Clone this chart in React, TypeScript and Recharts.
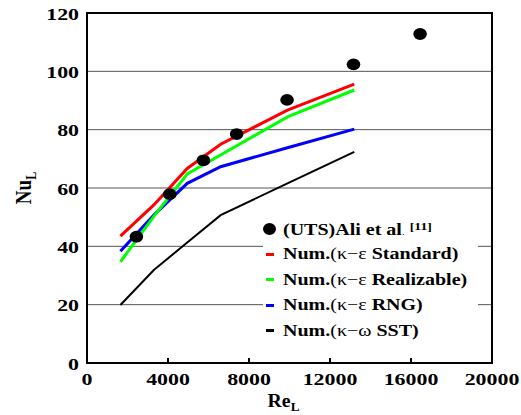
import { ComposedChart, Line, Scatter, XAxis, YAxis, CartesianGrid, ReferenceArea, Legend } from 'recharts'

// simulations (Re_L) and experiment points
const SIM_RE = [1650, 3300, 4950, 6600, 9900, 13200]
const STANDARD = [43.5, 54.2, 66.7, 75.0, 86.7, 95.6]
const REALIZABLE = [34.7, 50.3, 64.8, 71.3, 84.4, 93.6]
const RNG = [38.3, 50.7, 61.6, 67.3, 73.8, 80.2]
const SST = [19.9, 31.9, 41.3, 50.7, 61.6, 72.4]

const EXP_RE = [2440, 4085, 5750, 7390, 9880, 13160, 16450]
const EXP_NU = [43.3, 57.9, 69.5, 78.5, 90.2, 102.4, 112.8]

const X_TICKS = [0, 4000, 8000, 12000, 16000, 20000]
const Y_TICKS = [0, 20, 40, 60, 80, 100, 120]
const GRID_Y = [20, 40, 60, 80, 100]

const FONT = '"Liberation Serif", "Times New Roman", serif'
const SX = 1.25 // the original is stretched sideways

const simRows = SIM_RE.map((re, i) => ({
  re,
  standard: STANDARD[i],
  realizable: REALIZABLE[i],
  rng: RNG[i],
  sst: SST[i],
}))
const expRows = EXP_RE.map((re, i) => ({ re, nu: EXP_NU[i] }))

const LEGEND_ROWS = [
  { color: '#ff0000', model: 'κ−ε', name: 'Standard)' },
  { color: '#00ff00', model: 'κ−ε', name: 'Realizable)' },
  { color: '#0000ff', model: 'κ−ε', name: 'RNG)' },
  { color: '#000000', model: 'κ−ω', name: 'SST)' },
]

function XTick(props: any) {
  const { x, y, payload } = props
  const inner = payload.value !== 0 && payload.value !== 20000
  return (
    <g>
      {inner && <line x1={x} x2={x} y1={y} y2={y - 5} stroke="#000" strokeWidth={2} />}
      <text transform={`translate(${x},${y + 22}) scale(${SX},1)`} textAnchor="middle"
        fontFamily={FONT} fontWeight="bold" fontSize={17.5} fill="#000">
        {payload.value}
      </text>
    </g>
  )
}

function YTick(props: any) {
  const { x, y, payload } = props
  return (
    <text transform={`translate(${x - 8},${y + 6.5}) scale(${SX},1)`} textAnchor="end"
      fontFamily={FONT} fontWeight="bold" fontSize={17.5} fill="#000">
      {payload.value}
    </text>
  )
}

function XLabel(props: any) {
  const vb = props.viewBox
  const cx = vb.x + vb.width / 2 - 6
  return (
    <text transform={`translate(${cx},${vb.y + 44}) scale(1.1,1)`} textAnchor="middle"
      fontFamily={FONT} fontWeight="bold" fontSize={18} fill="#000">
      Re<tspan fontSize={12} dy={4}>L</tspan>
    </text>
  )
}

function YLabel(props: any) {
  const vb = props.viewBox
  const cy = vb.y + vb.height / 2
  return (
    <text transform={`translate(31,${cy}) scale(${SX},1) rotate(-90)`} textAnchor="middle"
      fontFamily={FONT} fontWeight="bold" fontSize={19} fill="#000">
      Nu<tspan fontSize={12} dy={4}>L</tspan>
    </text>
  )
}

function Dot(props: any) {
  return <ellipse cx={props.cx} cy={props.cy} rx={6.8} ry={5.9} fill="#000" />
}

function LegendBox() {
  const row = { height: 25.5, display: 'flex', alignItems: 'center', whiteSpace: 'nowrap' as const }
  const txt = {
    display: 'inline-block', transform: `scaleX(${SX})`, transformOrigin: 'left center',
    fontFamily: FONT, fontSize: 16, color: '#000', lineHeight: '18px',
  }
  return (
    <div style={{ background: '#fff', padding: '0 0 2px 0' }}>
      <div style={row}>
        <span style={{ width: 13, height: 12, borderRadius: '50%', background: '#000', marginLeft: 0, marginRight: 7 }} />
        <span style={txt}>
          <b>(UTS)Ali et al</b><span style={{ fontSize: 9 }}>.</span>{' '}
          <b style={{ fontSize: 11, verticalAlign: 5 }}>[11]</b>
        </span>
      </div>
      {LEGEND_ROWS.map((r) => (
        <div key={r.name} style={row}>
          <span style={{ width: 8, height: 3, background: r.color, marginLeft: 3, marginRight: 9 }} />
          <span style={txt}>
            <b>Num.</b>({r.model} <b>{r.name}</b>
          </span>
        </div>
      ))}
    </div>
  )
}

export default function App() {
  return (
    <div style={{ position: 'absolute', left: 0, top: 0, background: '#fff' }}>
      <ComposedChart width={521} height={415} margin={{ top: 13, right: 29, bottom: 0, left: 0 }}>
        <CartesianGrid horizontal vertical={false} horizontalValues={GRID_Y} stroke="#555" strokeWidth={1} />
        <XAxis dataKey="re" type="number" domain={[0, 20000]} ticks={X_TICKS} allowDataOverflow
          height={52} tickSize={0} tickMargin={0} tickLine={false} tick={<XTick />}
          axisLine={{ stroke: '#000', strokeWidth: 2 }} label={XLabel} />
        <YAxis type="number" domain={[0, 120]} ticks={Y_TICKS} width={87}
          tickSize={0} tickMargin={0} tickLine={false} tick={<YTick />}
          axisLine={{ stroke: '#000', strokeWidth: 2 }} label={YLabel} />
        <ReferenceArea x1={0} x2={20000} y1={0} y2={120} fill="none" stroke="#000" strokeWidth={2} />
        <Line data={simRows} dataKey="sst" stroke="#000000" strokeWidth={2} dot={false} isAnimationActive={false} />
        <Line data={simRows} dataKey="rng" stroke="#0000ff" strokeWidth={3} dot={false} isAnimationActive={false} />
        <Line data={simRows} dataKey="realizable" stroke="#00ff00" strokeWidth={3} dot={false} isAnimationActive={false} />
        <Line data={simRows} dataKey="standard" stroke="#ff0000" strokeWidth={3} dot={false} isAnimationActive={false} />
        <Scatter data={expRows} dataKey="nu" shape={<Dot />} isAnimationActive={false} />
        <Legend layout="vertical" align="center" verticalAlign="middle" content={<LegendBox />}
          wrapperStyle={{ left: 263, top: 216, width: 215 }} />
      </ComposedChart>
    </div>
  )
}
